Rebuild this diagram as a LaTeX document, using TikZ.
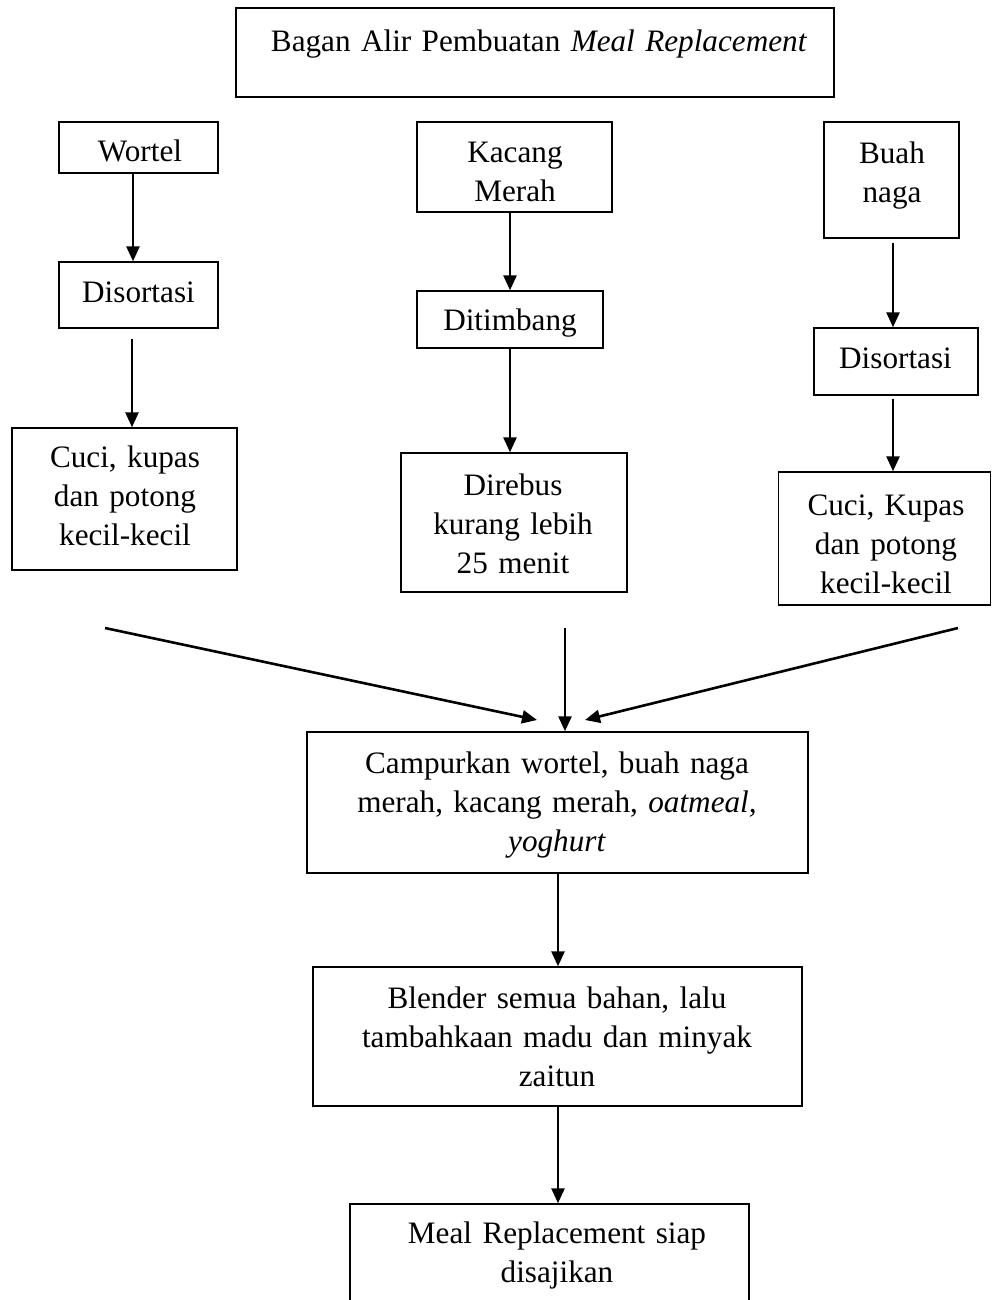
\documentclass[tikz,border=0pt]{standalone}
\usepackage{fontspec}
\setmainfont{Liberation Serif}
\usetikzlibrary{arrows.meta}
\tikzset{
  box/.style={draw, line width=0.7pt, inner sep=0pt, rectangle},
  titlebox/.style={draw, line width=1.4pt, inner sep=0pt, rectangle},
  txt/.style={anchor=base, inner sep=0pt, align=center, text width=320pt,
    font=\fontsize{15.6}{19.5}\selectfont},
  arr/.style={line width=1.3pt, -{Triangle[length=7.5pt,width=6.5pt]}},
}
\begin{document}
\begin{tikzpicture}[x=0.5pt,y=-0.5pt]
\useasboundingbox (0,0) rectangle (992,1300);
\clip (0,0) rectangle (992,1300);
% boxes
\node[titlebox, minimum width=299pt, minimum height=44.5pt] (title) at (535,52.5) {};
\node[box, minimum width=79.5pt, minimum height=25.5pt] (wortel) at (138.5,147.5) {};
\node[box, minimum width=79.5pt, minimum height=33pt] (dis1) at (138.5,295) {};
\node[box, minimum width=112.5pt, minimum height=71pt] (cuci1) at (124.5,499) {};
\node[box, minimum width=97.5pt, minimum height=45pt] (kacang) at (514.5,167) {};
\node[box, minimum width=93pt, minimum height=28.5pt] (tim) at (510,319.5) {};
\node[box, minimum width=113pt, minimum height=69.5pt] (rebus) at (514,522.5) {};
\node[box, minimum width=67.5pt, minimum height=58pt] (buah) at (891.5,180) {};
\node[box, minimum width=82pt, minimum height=33.5pt] (dis2) at (896,361.5) {};
\node[box, minimum width=106pt, minimum height=66.5pt] (cuci2) at (884.5,538.5) {};
\node[box, minimum width=250.5pt, minimum height=70.5pt] (campur) at (557.5,802.5) {};
\node[box, minimum width=244.5pt, minimum height=69.5pt] (blend) at (557.5,1036.5) {};
\node[box, minimum width=199.5pt, minimum height=56pt] (meal) at (549.5,1260) {};
% texts
\node[txt] (titlet) at (539,52) {Bagan Alir Pembuatan \textit{Meal Replacement}};
\node[txt] (wortelt) at (140,162) {Wortel};
\node[txt] (dis1t) at (138.5,302) {Disortasi};
\node[txt] (cuci1t) at (125,467) {Cuci, kupas\\dan potong\\kecil-kecil};
\node[txt] (kacangt) at (515,163) {Kacang\\Merah};
\node[txt] (timt) at (510,330) {Ditimbang};
\node[txt] (rebust) at (513,495) {Direbus\\kurang lebih\\25 menit};
\node[txt] (buaht) at (892,164) {Buah\\naga};
\node[txt] (dis2t) at (895.5,368) {Disortasi};
\node[txt] (cuci2t) at (886,515) {Cuci, Kupas\\dan potong\\kecil-kecil};
\node[txt] (campurt) at (557,773) {Campurkan wortel, buah naga\\merah, kacang merah, \textit{oatmeal,}\\\textit{yoghurt}};
\node[txt] (blendt) at (557,1008) {Blender semua bahan, lalu\\tambahkaan madu dan minyak\\zaitun};
\node[txt] (mealt) at (557,1243) {Meal Replacement siap\\disajikan};
% free ends
\coordinate (s2) at (132,339);
\coordinate (s5) at (893,243);
\coordinate (s6) at (893,399);
\coordinate (sl) at (105,628);
\coordinate (el) at (537,720);
\coordinate (sc) at (565,628);
\coordinate (sr) at (958,628);
\coordinate (er) at (585,720);
% arrows
\draw[arr] (wortel.south -| 133,0) -- (dis1.north -| 133,0);
\draw[arr] (s2) -- (cuci1.north -| s2);
\draw[arr] (kacang.south -| 510,0) -- (tim.north -| 510,0);
\draw[arr] (tim.south -| 510,0) -- (rebus.north -| 510,0);
\draw[arr] (s5) -- (dis2.north -| s5);
\draw[arr] (s6) -- (cuci2.north -| s6);
\draw[arr] (sl) -- (el);
\draw[arr] (sc) -- (campur.north -| sc);
\draw[arr] (sr) -- (er);
\draw[arr] (campur.south -| 558,0) -- (blend.north -| 558,0);
\draw[arr] (blend.south -| 558,0) -- (meal.north -| 558,0);
\end{tikzpicture}
\end{document}
